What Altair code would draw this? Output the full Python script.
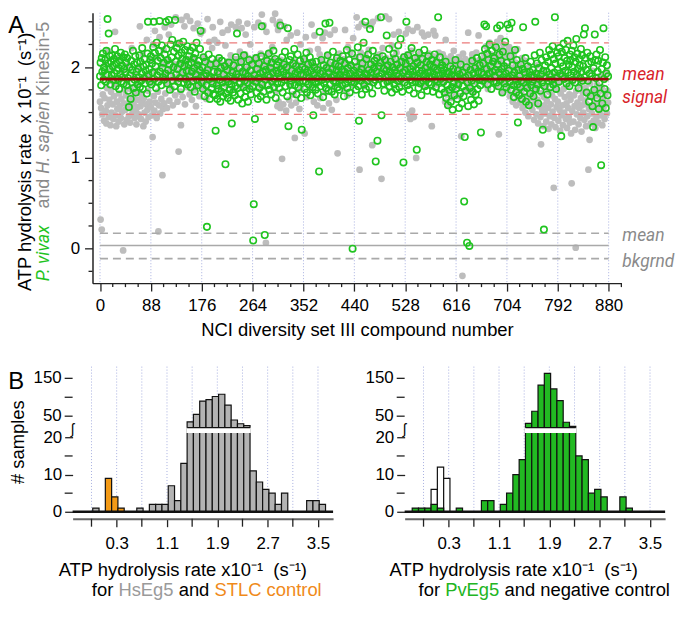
import altair as alt
import pandas as pd

FONT = "Liberation Sans"
ITFONT = "Roboto"

# ---------------- Panel A : ATP hydrolysis rate per compound (x10^-1 s^-1) ----------------
# 40 rows x 22 compounds; row r holds compounds 22*r ... 22*r+21
green_rows = [
    [1.90, 2.05, 1.80, 2.10, 1.95, 2.15, 1.86, 2.00, 1.97, 2.08, 1.84, 2.18, 1.92, 2.53, 2.04, 2.37, 1.98, 2.12, 1.81, 2.06, 1.91, 2.13],
    [2.01, 1.86, 2.09, 1.93, 2.20, 1.79, 2.04, 1.96, 2.12, 1.87, 1.99, 1.76, 2.07, 1.92, 2.16, 1.84, 2.02, 1.89, 2.11, 1.82, 1.98, 2.14],
    [1.94, 2.05, 1.80, 2.10, 1.88, 1.74, 1.56, 2.00, 1.91, 1.65, 2.07, 1.83, 1.97, 2.18, 1.77, 2.03, 1.86, 2.12, 1.72, 1.95, 2.05, 1.81],
    [1.98, 1.89, 2.13, 1.78, 2.06, 1.85, 1.93, 2.21, 1.76, 2.01, 1.88, 2.09, 1.82, 1.96, 2.03, 1.71, 2.15, 2.50, 1.92, 1.98, 1.84, 2.08],
    [2.12, 1.81, 2.04, 1.94, 2.22, 2.50, 1.87, 2.16, 2.01, 1.77, 2.27, 1.91, 2.07, 1.84, 2.18, 2.51, 1.95, 2.10, 1.80, 2.24, 1.99, 1.89],
    [2.05, 1.86, 2.14, 1.93, 2.50, 2.20, 1.82, 2.08, 1.97, 2.52, 2.03, 1.75, 2.25, 1.90, 2.11, 2.30, 1.85, 2.00, 2.17, 1.79, 2.52, 2.06],
    [1.92, 2.21, 1.98, 1.84, 2.13, 2.26, 1.88, 2.04, 1.76, 2.16, 2.09, 1.94, 2.28, 1.83, 2.01, 2.19, 1.87, 2.08, 1.96, 2.23, 1.81, 2.03],
    [2.12, 1.90, 2.18, 1.78, 2.05, 1.95, 2.22, 1.85, 2.10, 1.99, 1.73, 2.15, 1.92, 2.27, 1.86, 2.02, 1.80, 2.07, 1.97, 2.20, 2.40, 1.89],
    [1.83, 2.00, 1.76, 2.11, 1.90, 1.68, 2.06, 1.93, 1.80, 0.24, 1.97, 1.72, 2.14, 1.87, 1.65, 2.03, 1.89, 1.77, 2.09, 1.82, 1.70, 1.95],
    [1.88, 1.69, 1.30, 2.04, 1.80, 1.65, 1.95, 1.76, 2.10, 1.86, 1.62, 1.99, 1.73, 2.07, 1.83, 1.68, 1.92, 1.78, 2.01, 0.93, 1.71, 1.87],
    [1.97, 1.66, 1.84, 2.05, 1.75, 1.90, 1.63, 1.81, 1.38, 1.94, 1.72, 2.02, 1.86, 1.69, 1.79, 2.11, 1.92, 2.37, 1.77, 1.64, 1.89, 1.99],
    [1.82, 1.71, 2.06, 1.88, 1.60, 1.95, 1.78, 2.13, 1.85, 1.67, 1.93, 1.74, 2.00, 1.83, 1.62, 1.90, 2.08, 1.76, 1.96, 1.70, 1.87, 2.03],
    [1.79, 0.09, 0.49, 1.91, 1.43, 1.84, 2.10, 1.72, 1.98, 1.65, 1.88, 2.04, 1.77, 1.93, 1.68, 2.12, 2.45, 1.81, 1.95, 1.73, 2.01, 0.15],
    [1.86, 1.97, 1.64, 2.07, 1.80, 1.91, 2.15, 1.75, 1.89, 1.99, 1.70, 2.05, 1.84, 1.94, 2.18, 1.78, 1.87, 2.09, 1.66, 1.96, 2.02, 1.82],
    [1.93, 2.06, 1.77, 1.88, 2.46, 1.98, 1.83, 2.11, 1.72, 1.95, 2.03, 1.86, 2.17, 1.79, 1.91, 2.00, 1.68, 2.43, 1.35, 1.90, 2.08, 1.81],
    [2.12, 1.85, 1.96, 1.74, 2.04, 1.89, 2.20, 1.80, 1.93, 2.01, 1.70, 1.87, 2.14, 1.78, 1.97, 1.83, 2.07, 1.92, 1.66, 1.31, 2.00, 1.85],
    [1.91, 2.09, 1.76, 1.98, 1.84, 2.16, 1.72, 1.94, 2.03, 1.81, 1.89, 2.11, 1.69, 1.96, 1.86, 2.05, 1.78, 1.47, 1.92, 2.00, 1.83, 1.75],
    [2.06, 1.88, 1.97, 1.71, 1.84, 0.85, 2.39, 1.93, 1.79, 2.08, 1.86, 1.95, 1.67, 2.02, 1.82, 1.90, 2.48, 1.77, 1.99, 1.87, 2.13, 1.74],
    [1.94, 2.49, 1.81, 2.05, 1.89, 1.73, 1.98, 2.17, 1.85, 1.91, 1.70, 2.03, 1.83, 1.96, 2.10, 1.78, 1.88, 2.01, 1.75, 1.92, 2.07, 1.86],
    [1.97, 1.80, 2.12, 1.89, 1.68, 1.95, 2.04, 1.82, 1.91, 2.19, 1.77, 1.99, 1.86, 2.08, 1.72, 1.93, 2.02, 1.84, 2.15, 0.00, 1.88, 1.96],
    [1.83, 2.06, 1.91, 1.75, 2.00, 1.87, 2.22, 1.79, 1.41, 1.94, 2.11, 1.85, 1.98, 1.70, 2.04, 1.89, 2.27, 1.81, 1.93, 2.50, 1.76, 2.09],
    [1.92, 1.85, 2.14, 1.97, 1.78, 2.42, 1.88, 2.03, 1.94, 1.71, 2.18, 1.83, 1.99, 2.07, 1.86, 0.96, 1.95, 2.10, 1.19, 1.80, 2.01, 1.90],
    [1.87, 2.05, 2.55, 1.47, 1.93, 2.12, 1.82, 1.98, 1.74, 2.08, 1.89, 1.96, 2.35, 1.84, 2.02, 1.91, 2.20, 1.79, 1.95, 2.06, 1.86, 1.72],
    [2.00, 1.88, 2.15, 1.81, 1.97, 2.09, 1.76, 1.93, 2.03, 1.85, 2.24, 1.90, 1.78, 1.99, 2.31, 1.87, 2.06, 1.73, 1.94, 0.95, 2.11, 1.83],
    [1.96, 2.04, 2.50, 1.89, 1.80, 2.13, 1.92, 1.75, 2.07, 1.98, 1.86, 2.21, 1.83, 1.95, 2.01, 1.71, 1.90, 2.10, 1.84, 1.97, 1.09, 2.05],
    [1.88, 1.77, 2.16, 1.93, 1.82, 2.02, 1.69, 1.96, 2.09, 1.85, 1.91, 2.19, 1.79, 1.99, 1.87, 2.06, 1.74, 1.94, 2.12, 1.83, 1.90, 2.03],
    [1.95, 1.81, 2.08, 1.89, 1.73, 2.00, 1.92, 2.14, 1.86, 1.78, 2.05, 1.97, 1.84, 2.55, 1.91, 1.70, 2.11, 1.87, 1.99, 1.76, 2.02, 1.93],
    [1.84, 1.97, 1.72, 1.89, 2.06, 1.66, 1.93, 1.80, 1.58, 1.95, 1.75, 1.87, 2.01, 1.62, 1.91, 1.78, 1.53, 1.98, 1.83, 1.69, 1.90, 2.08],
    [1.76, 1.88, 1.65, 1.96, 1.81, 1.55, 1.92, 1.71, 2.03, 1.86, 1.60, 1.94, 1.79, 1.68, 0.52, 1.23, 1.89, 1.74, 2.00, 0.065, 1.83, 1.57],
    [1.91, 0.03, 1.77, 1.97, 1.64, 1.85, 2.07, 1.73, 1.93, 1.59, 1.82, 1.99, 1.70, 1.88, 2.10, 1.76, 1.95, 1.63, 1.86, 2.02, 1.80, 1.28],
    [1.94, 2.12, 1.85, 2.04, 1.92, 2.47, 2.20, 1.88, 2.45, 1.98, 2.15, 1.81, 2.08, 1.93, 2.25, 1.87, 2.01, 1.76, 2.18, 1.95, 2.06, 1.84],
    [2.10, 1.90, 1.97, 2.22, 1.83, 2.43, 2.03, 1.79, 1.94, 2.14, 2.46, 1.86, 2.07, 1.98, 1.72, 2.17, 1.89, 2.01, 1.82, 2.28, 1.93, 1.78],
    [2.05, 2.47, 1.88, 1.96, 2.43, 1.84, 2.12, 1.75, 2.49, 1.91, 2.02, 1.80, 1.67, 1.94, 2.19, 1.86, 1.72, 2.08, 1.81, 1.39, 1.97, 1.69],
    [1.90, 1.78, 2.03, 1.85, 1.65, 1.98, 2.44, 1.83, 1.73, 1.94, 2.10, 1.62, 1.88, 1.77, 2.01, 1.86, 1.58, 1.95, 1.71, 2.06, 1.80, 1.91],
    [1.84, 1.97, 1.68, 1.89, 2.13, 2.50, 1.76, 1.93, 2.04, 1.81, 1.60, 1.99, 1.87, 2.16, 1.74, 1.92, 2.08, 1.83, 1.31, 1.96, 0.21, 1.79],
    [2.02, 1.88, 2.11, 1.95, 1.70, 2.06, 1.85, 2.19, 1.92, 1.78, 2.14, 1.99, 1.86, 2.23, 1.81, 2.09, 1.94, 2.55, 2.04, 1.76, 1.89, 2.16],
    [1.97, 2.12, 1.84, 2.21, 1.93, 2.05, 1.24, 2.17, 1.90, 2.01, 2.26, 1.87, 2.10, 1.96, 2.19, 1.82, 2.07, 2.29, 1.94, 2.03, 1.79, 2.14],
    [2.08, 1.91, 2.18, 2.00, 1.86, 2.24, 1.95, 2.11, 1.83, 2.06, 2.31, 1.92, 2.15, 1.98, 1.77, 2.09, 2.02, 1.88, 2.20, 1.95, 2.13, 1.85],
    [2.01, 2.36, 1.89, 2.43, 2.10, 1.97, 1.72, 2.16, 1.85, 2.04, 1.62, 1.93, 2.12, 1.68, 2.06, 1.90, 1.57, 1.34, 1.99, 1.75, 2.36, 2.08],
    [1.88, 2.14, 1.66, 1.95, 2.07, 1.54, 1.83, 2.19, 1.71, 0.92, 1.98, 1.60, 2.05, 2.43, 1.87, 1.76, 2.11, 1.55, 1.93, 2.02, 1.69, 1.90],
]
gray_rows = [
    [1.62, 0.32, 1.55, 0.21, 1.48, 1.70, 1.92, 1.41, 1.66, 2.05, 1.52, 1.38, 1.77, 1.58, 2.18, 1.45, 1.64, 1.85, 1.36, 1.73, 1.50, 1.97],
    [1.59, 1.43, 1.68, 1.81, 2.39, 1.47, 1.35, 1.62, 1.54, 2.10, 1.40, 1.71, 1.57, 1.88, 1.44, 1.65, 1.51, 1.96, -0.02, 1.60, 1.37, 1.75],
    [1.53, 1.69, 1.42, 1.84, 1.58, 2.02, 1.46, 1.63, 1.39, 1.76, 1.55, 2.21, 1.49, 1.67, 1.60, 1.91, 1.44, 1.72, 1.52, 1.37, 1.80, 1.56],
    [1.64, 1.48, 1.99, 2.45, 1.57, 1.43, 1.70, 1.61, 2.14, 1.35, 1.66, 1.50, 1.86, 1.40, 1.59, 2.30, 1.53, 1.74, 1.45, 1.93, 1.62, 2.08],
    [1.56, 1.83, 1.47, 1.23, 2.25, 1.68, 1.52, 2.40, 1.61, 1.96, 1.44, 2.11, 1.73, 0.19, 1.58, 2.33, 1.49, 1.87, 1.65, 2.02, 0.81, 1.54],
    [2.19, 1.60, 2.44, 1.71, 1.92, 2.05, 1.55, 2.07, 1.82, 2.36, 1.63, 1.95, 1.97, 2.47, 1.76, 1.88, 1.58, 1.89, 2.01, 2.03, 1.69, 2.55],
    [1.85, 2.26, 1.62, 2.02, 1.07, 1.94, 1.94, 1.73, 1.36, 2.52, 2.05, 1.67, 1.91, 1.88, 2.45, 1.59, 2.07, 1.99, 2.56, 1.78, 1.84, 1.92],
    [2.09, 1.70, 2.51, 1.86, 1.98, 1.64, 2.09, 1.95, 2.43, 1.75, 2.07, 1.89, 1.57, 2.04, 1.90, 2.48, 1.81, 1.95, 1.68, 2.01, 2.37, 1.84],
    [1.93, 1.96, 2.40, 1.77, 2.11, 1.83, 1.88, 2.08, 1.65, 1.96, 2.53, 2.04, 1.93, 2.28, 1.72, 1.99, 2.00, 1.83, 2.21, 2.44, 1.90, 2.03],
    [2.30, 1.86, 2.06, 1.92, 1.97, 2.27, 1.79, 2.08, 1.95, 1.92, 2.50, 2.03, 1.74, 1.90, 2.38, 1.89, 2.02, 1.85, 1.95, 2.24, 1.81, 1.98],
    [2.06, 2.41, 1.91, 1.99, 1.84, 1.84, 2.13, 2.47, 1.98, 1.86, 1.76, 2.07, 2.09, 1.93, 1.89, 2.44, 2.01, 1.87, 1.92, 2.09, 2.50, 1.95],
    [2.17, 1.92, 1.89, 2.43, 2.05, 1.80, 1.97, 2.10, 1.96, 2.14, 2.36, 1.85, 1.91, 2.48, 1.99, 2.10, 1.90, 1.78, 2.25, 2.04, 1.82, 1.92],
    [1.93, 2.07, 1.88, 2.44, 2.08, 1.97, 1.88, 2.11, 1.83, 1.99, 2.49, 2.02, 1.94, 2.05, 2.15, 1.79, 2.58, 1.94, 2.06, 2.46, 1.90, 2.00],
    [2.12, 0.065, 2.39, 1.95, 1.97, 2.05, 1.86, 2.03, 2.16, 1.99, 1.92, 1.81, 2.22, 2.52, 1.92, 2.08, 1.96, 2.59, 1.73, 1.98, 2.47, 1.57],
    [2.41, 1.62, 1.95, 2.50, 1.55, 2.08, 1.97, 0.99, 2.03, 1.59, 1.91, 2.45, 1.88, 2.04, 1.52, 2.30, 1.99, 1.96, 1.93, 1.64, 2.02, 1.80],
    [2.35, 1.58, 2.01, 1.93, 1.98, 1.70, 2.04, 1.22, 2.06, 1.61, 1.89, 2.38, 1.84, 2.02, 1.90, 1.54, 1.97, 2.25, 1.75, 2.03, 1.96, 1.89],
    [2.08, 1.94, 1.27, 1.91, 2.33, 2.05, 1.67, 1.97, 2.00, 1.89, 1.86, 2.18, 1.91, 1.79, 2.47, 2.05, 1.95, 1.92, 1.62, 2.35, 2.00, 1.88],
    [1.99, 2.01, 1.58, 2.20, 1.94, 1.92, 2.14, 1.66, 1.96, 2.07, 1.85, 2.32, 1.55, 1.97, 1.97, 2.38, 1.72, 2.01, 1.88, 1.90, 2.13, 2.04],
    [1.60, 1.93, 2.36, 1.94, 2.02, 1.53, 1.90, 2.02, 1.78, 1.99, 2.41, 1.87, 2.08, 1.64, 1.97, 1.05, 1.98, 2.05, 2.15, 1.83, 1.90, 2.06],
    [1.91, 2.08, 1.92, 1.76, 1.95, 2.09, 2.41, 1.95, 2.04, 1.87, 1.69, 2.22, 2.03, 1.95, 1.88, 2.16, 2.00, 1.81, 1.97, 2.00, 2.32, 1.93],
    [2.00, 1.98, 1.97, 2.11, 2.55, 1.99, 1.86, 2.44, 2.05, 0.87, 1.93, 2.16, 1.90, 2.48, 1.94, 2.01, 2.12, 1.79, 2.06, 2.13, 2.46, 2.07],
    [2.01, 1.94, 1.92, 2.19, 2.08, 1.95, 1.83, 2.46, 1.96, 1.14, 2.50, 2.02, 1.89, 1.96, 2.03, 1.97, 2.12, 1.88, 2.04, 2.54, 2.05, 1.99],
    [2.14, 2.05, 1.99, 0.77, 1.97, 2.21, 1.89, 2.06, 1.91, 2.02, 2.56, 2.10, 1.90, 1.85, 1.97, 2.05, 2.53, 1.98, 2.03, 1.95, 1.95, 2.24],
    [1.98, 2.11, 2.36, 2.00, 1.99, 1.87, 2.01, 2.16, 1.93, 1.93, 2.05, 2.39, 2.07, 1.82, 1.96, 2.09, 1.93, 1.98, 2.08, 2.12, 1.89, 2.04],
    [2.01, 2.37, 1.96, 2.00, 2.14, 2.42, 1.88, 1.48, 2.09, 1.43, 1.93, 2.18, 1.52, 2.40, 2.02, 1.45, 1.96, 1.91, 2.05, 1.00, 2.11, 2.44],
    [2.07, 1.84, 1.92, 2.06, 2.15, 1.95, 1.94, 2.38, 2.00, 2.13, 1.79, 2.34, 1.90, 1.90, 2.01, 2.08, 1.97, 1.86, 2.36, 2.15, 1.97, 1.99],
    [1.93, 2.04, 1.35, 2.01, 2.12, 2.40, 1.93, 1.99, 2.35, 1.81, 1.97, 2.09, 2.04, 1.98, 2.16, 1.93, 1.88, 2.02, 2.05, 1.98, 1.94, 2.14],
    [2.06, 1.83, 2.10, 1.62, 2.30, 1.95, 1.70, 2.08, 1.88, 2.05, 1.58, 2.04, 1.76, 2.12, 1.92, 1.66, 2.03, 1.99, 2.18, 1.73, 2.07, 1.86],
    [2.01, 2.09, 1.80, 2.02, 1.93, 2.11, 1.68, 1.94, 1.97, 1.24, 2.06, -0.30, 2.15, 1.85, 1.99, 1.74, 2.09, 1.91, 2.00, 1.82, 2.02, 2.38],
    [1.96, 2.03, 1.78, 2.07, 2.04, 1.89, 2.14, 2.10, 1.72, 2.01, 1.99, 2.06, 1.84, 2.16, 2.03, 1.92, 1.95, 2.35, 1.87, 2.08, 2.01, 1.95],
    [2.08, 1.86, 1.99, 2.05, 1.97, 2.14, 1.81, 2.12, 2.23, 1.93, 2.07, 1.76, 2.00, 2.01, 2.27, 1.90, 2.14, 1.83, 1.96, 2.09, 1.95, 2.10],
    [2.04, 1.88, 2.23, 2.11, 1.79, 2.28, 1.98, 2.15, 1.26, 2.06, 1.85, 2.32, 1.94, 2.19, 1.73, 2.09, 2.25, 1.90, 2.02, 1.82, 2.17, 1.96],
    [1.87, 2.14, 1.75, 2.01, 2.22, 1.68, 1.93, 2.08, 1.80, 2.17, 1.62, 1.99, 2.12, 1.71, 1.90, 2.05, 1.58, 1.84, 2.20, 1.66, 1.97, 1.77],
    [2.03, 1.61, 1.89, 1.74, 2.10, 1.55, 1.95, 1.68, 1.82, 2.07, 1.50, 1.78, 1.98, 1.63, 1.86, 1.46, 2.00, 1.72, 1.57, 1.91, 1.66, 1.80],
    [1.53, 1.85, 1.69, 1.42, 1.94, 1.60, 1.76, 1.48, 2.02, 1.64, 1.38, 1.81, 1.57, 1.89, 1.45, 1.15, 1.71, 1.52, 1.97, 1.35, 1.67, 1.58],
    [1.49, 1.78, 1.40, 1.63, 1.92, 1.55, 1.32, 1.73, 1.46, 1.86, 1.59, 1.37, 1.69, 1.51, 1.80, 0.67, 1.44, 1.65, 1.34, 1.90, 1.56, 1.75],
    [1.62, 1.41, 1.83, 1.53, 1.30, 1.71, 1.47, 1.95, 1.58, 1.36, 1.76, 1.50, 1.67, 1.88, 1.43, 1.60, 1.33, 1.79, 1.55, 1.45, 1.70, 1.39],
    [1.64, 1.27, 0.72, 1.52, 1.84, 1.40, 1.69, 1.57, 1.31, 0.01, 1.74, 1.48, 1.61, 1.93, 1.37, 1.55, 1.80, 1.44, 1.66, 1.29, 1.58, 1.72],
    [1.50, 1.86, 1.42, 1.63, 1.77, 1.35, 1.59, 1.46, 1.70, 0.87, 1.54, 1.20, 1.82, 1.38, 1.67, 1.49, 1.96, 1.56, 1.41, 1.75, 1.60, 1.33],
    [1.68, 1.45, 1.81, 1.57, 1.39, 1.73, 1.52, 1.90, 1.62, 1.47, 1.78, 1.36, 1.65, 1.55, 1.86, 1.43, 1.70, 1.59, 1.95, 1.49, 1.74, 1.61],
]
ROW_LEN = 22

signal_mean = 1.868
signal_band = [1.479, 2.268]
bkgrnd_mean = 0.035
bkgrnd_band = [-0.11, 0.17]
line_span = [0, 880]

major_x_a = list(range(0, 881, 88))                                  # labelled ticks / grid
minor_x_a = [v for v in range(0, 903, 22) if v % 88 != 0]           # small ticks
major_y_a = [0, 1, 2]
minor_y_a = [-0.25, 0.25, 0.5, 0.75, 1.25, 1.5, 1.75, 2.25, 2.5]

# ---------------- Panel B : histograms (# samples per 0.1 bin) ----------------
hs_left = [-0.08, 0.62, 0.82, 0.92, 1.02, 1.12, 1.22, 1.32, 1.42, 1.52, 1.62, 1.72, 1.82, 1.92,
           2.02, 2.12, 2.22, 2.32, 2.42, 2.52, 2.62, 2.72, 2.82, 2.92, 3.32, 3.42, 3.52]
hs_count = [1, 1, 2, 2, 2, 7, 3, 13, 35, 55, 90, 94, 102, 108, 79, 40, 30, 25, 11, 8, 6, 5, 2, 5, 3, 3, 2]
stlc_left = [0.12, 0.22, 0.32]
stlc_count = [9, 4, 1]
pv_left = [-0.28, -0.18, -0.08, 0.02, 0.12, 0.42, 0.82, 0.92, 1.12, 1.22, 1.32, 1.42, 1.52, 1.62,
           1.72, 1.82, 1.92, 2.02, 2.12, 2.22, 2.32, 2.42, 2.52, 2.62, 2.72, 3.02, 3.12]
pv_count = [1, 1, 1, 2, 1, 1, 3, 3, 2, 5, 10, 14, 31, 63, 132, 163, 122, 91, 34, 23, 15, 14, 5, 6, 4, 4, 1]
neg_left = [0.02, 0.12, 0.22]
neg_count = [6, 12, 9]
BIN_W = 0.1
grid_b = [-0.1, 0.3, 0.7, 1.1, 1.5, 1.9, 2.3, 2.7, 3.1, 3.5]
label_b = [0.3, 1.1, 1.9, 2.7, 3.5]
unlabeled_b = [-0.1, 0.7, 1.5, 2.3, 3.1]
x_extent_b = [-0.4, 3.74]
y_low_labels = [0, 10, 20]
y_low_minor = [5, 15]
y_up_labels = [50, 150]
y_up_minor = [100]

# broken y axis: linear up to 21, compressed above
BREAK_LO = 21.0
GAP_LO, GAP_HI = 21.2, 22.6


def brk(c):
    return c if c <= BREAK_LO else 20.6 + 0.1017 * c


# ---------------- text width helper (Arial / Liberation Sans metrics) ----------------
W = {' ': .278, '\u00a0': .278, '#': .556, '(': .333, ')': .333, '-': .333, '.': .278,
     '\u207b': .33, '\u00b9': .33}
for ch in '0123456789':
    W[ch] = .556
W.update(dict(A=.667, B=.667, C=.722, D=.722, E=.667, F=.611, G=.778, H=.722, I=.278, J=.5, K=.667,
              L=.556, M=.833, N=.722, O=.778, P=.667, Q=.778, R=.722, S=.667, T=.611, U=.722, V=.667,
              W=.944, X=.667, Y=.667, Z=.611))
W.update(dict(a=.556, b=.556, c=.5, d=.556, e=.556, f=.278, g=.556, h=.556, i=.222, j=.222, k=.5, l=.222,
              m=.833, n=.556, o=.556, p=.556, q=.556, r=.333, s=.5, t=.278, u=.556, v=.5, w=.722, x=.5,
              y=.5, z=.5))


def tw(s, size):
    return sum(W.get(ch, .556) for ch in s) * size


def label(text, x, y, size=18.5, color="black", style="normal", angle=0, align="left", baseline="middle"):
    font = ITFONT if style == "italic" else FONT
    return alt.Chart(pd.DataFrame({"t": [text]})).mark_text(
        align=align, baseline=baseline, angle=angle, fontSize=size, font=font,
        color=color, fontStyle=style).encode(text="t:N", x=alt.value(x), y=alt.value(y))


GREEN = "#1fc41f"
GRAYPT = "#bdbdbd"
GRID = "#a7afe0"
TXT_GRAY = "#8a8a8a"
RED_TXT = "#d8232a"
TICK = "#222"

# ======================= Panel A =======================
WA, HA = 532, 272
xA = alt.Scale(domain=[-13, 902], nice=False, zero=False)
yA = alt.Scale(domain=[-0.38, 2.6], nice=False, zero=False)


def rows_df(rows):
    recs = []
    for r, row in enumerate(rows):
        for c, v in enumerate(row):
            recs.append({"x": r * ROW_LEN + c, "y": v})
    return pd.DataFrame(recs)


gridA = alt.Chart(pd.DataFrame({"x": major_x_a})).mark_rule(
    color=GRID, strokeDash=[1, 2], strokeWidth=1).encode(
    x=alt.X("x:Q", scale=xA, axis=alt.Axis(
        values=major_x_a, format="d", tickSize=8, labelOverlap=False,
        title="NCI diversity set III compound number", titleFontSize=18.5, titleFont=FONT,
        titleFontWeight="normal", titleColor="black", titlePadding=7, labelPadding=7,
        labelFontSize=17)))

minor_xA = alt.Chart(pd.DataFrame({"x": minor_x_a})).mark_rule(color=TICK, strokeWidth=1.3).encode(
    x=alt.X("x:Q", scale=xA), y=alt.value(HA), y2=alt.value(HA + 4))

grayA = alt.Chart(rows_df(gray_rows)).mark_circle(size=46, color=GRAYPT, opacity=1).encode(
    x=alt.X("x:Q", scale=xA),
    y=alt.Y("y:Q", scale=yA, axis=alt.Axis(
        values=major_y_a, format="d", tickSize=8, labelOverlap=False,
        title=None, labelPadding=5, labelFontSize=17)))

minor_yA = alt.Chart(pd.DataFrame({"y": minor_y_a})).mark_rule(color=TICK, strokeWidth=1.3).encode(
    y=alt.Y("y:Q", scale=yA), x=alt.value(0), x2=alt.value(-4))


def hline(yv, color, width, dash=None):
    df = pd.DataFrame({"x": [line_span[0]], "x2": [line_span[1]], "y": [yv]})
    kw = dict(color=color, strokeWidth=width)
    if dash:
        kw["strokeDash"] = dash
    return alt.Chart(df).mark_rule(**kw).encode(
        x=alt.X("x:Q", scale=xA), x2="x2:Q", y=alt.Y("y:Q", scale=yA))


bkg_lines = [hline(bkgrnd_mean, "#a9a9a9", 1.6)] + [hline(v, "#a9a9a9", 1.6, [8, 5]) for v in bkgrnd_band]

greenA = alt.Chart(rows_df(green_rows)).mark_point(
    shape="circle", filled=False, size=42, color=GREEN, strokeWidth=1.6, opacity=1).encode(
    x=alt.X("x:Q", scale=xA), y=alt.Y("y:Q", scale=yA))

sig_lines = [hline(v, "#ec7b7b", 1.3, [8, 5]) for v in signal_band] + [hline(signal_mean, "#9b0a0a", 2.6)]

side_txt = pd.DataFrame({"t": ["mean", "signal", "mean", "bkgrnd"],
                         "y": [1.917, 1.656, 0.135, -0.145],
                         "c": [RED_TXT, RED_TXT, TXT_GRAY, TXT_GRAY]})
sideA = alt.Chart(side_txt).mark_text(align="left", baseline="middle", fontSize=17.5, font=ITFONT,
                                      fontStyle="italic").encode(
    text="t:N", x=alt.value(533), y=alt.Y("y:Q", scale=yA),
    color=alt.Color("c:N", scale=None))

# y title (two rotated lines, mixed colours)
FS = 18.5
FS2 = 18
line1 = "ATP hydrolysis rate\u00a0 x 10\u207b\u00b9\u00a0\u00a0(s\u207b\u00b9)"
ytitle = [label(line1, -67.7, HA + 8, FS, "black", angle=270)]
y_bottom = HA - 2          # where "P. vivax" starts
y_top = 9                  # where "Kinesin-5" ends
ytitle.append(label("P. vivax", -48.7, y_bottom, FS2, GREEN, "italic", angle=270))
ytitle.append(label("and", -48.7, y_bottom - tw("P. vivax\u00a0\u00a0", FS2), FS2, TXT_GRAY, angle=270))
ytitle.append(label("Kinesin-5", -48.7, y_top, FS2, TXT_GRAY, angle=270, align="right"))
ytitle.append(label("H. sapien", -48.7, y_top + tw("Kinesin-5 ", FS2), FS2, TXT_GRAY, "italic",
                    angle=270, align="right"))

letterA = label("A", -84.7, 1, 24, "black", baseline="top")

panelA = alt.layer(gridA, minor_xA, grayA, minor_yA, *bkg_lines, greenA, *sig_lines, sideA,
                   *ytitle, letterA).properties(width=WA, height=HA)

# ======================= Panel B =======================
SHIFT = 20          # histogram axes start 20 px left of panel A's plot edge
WB, HB = 242, 146
xB = alt.Scale(domain=x_extent_b, range=[-SHIFT, WB], nice=False, zero=False)
yB = alt.Scale(domain=[0, 39], nice=False, zero=False)


def bars_df(lefts, counts):
    return pd.DataFrame({"x": lefts, "x2": [l + BIN_W for l in lefts],
                         "y": [brk(c) for c in counts], "y0": [0] * len(lefts)})


def bar_layer(lefts, counts, fill, y_axis=None):
    yenc = alt.Y("y:Q", scale=yB, axis=y_axis) if y_axis is not None else alt.Y("y:Q", scale=yB)
    return alt.Chart(bars_df(lefts, counts)).mark_rect(fill=fill, stroke="#111", strokeWidth=1.2).encode(
        x=alt.X("x:Q", scale=xB), x2="x2:Q", y=yenc, y2="y0:Q")


def py(v):
    return HB - v * HB / 39.0


def hist(main_l, main_c, main_fill, ctrl_l, ctrl_c, ctrl_fill, ctrl_behind, texts):
    grid = alt.Chart(pd.DataFrame({"x": grid_b})).mark_rule(
        color=GRID, strokeDash=[1, 2], strokeWidth=1).encode(
        x=alt.X("x:Q", scale=xB, axis=alt.Axis(
            values=label_b, format=".1f", labelOverlap=False, offset=7, tickSize=8,
            labelPadding=9, title=None, domainColor="#666", domainWidth=2, labelFontSize=17)))
    xminor = alt.Chart(pd.DataFrame({"x": unlabeled_b})).mark_rule(color=TICK, strokeWidth=1.3).encode(
        x=alt.X("x:Q", scale=xB), y=alt.value(HB + 7), y2=alt.value(HB + 15))
    yax = alt.Axis(values=y_low_labels, format="d", labelOverlap=False, domain=False, tickSize=8,
                   offset=SHIFT, labelPadding=3, title=None, labelFontSize=17)
    main = bar_layer(main_l, main_c, main_fill, yax)
    ctrl = bar_layer(ctrl_l, ctrl_c, ctrl_fill)
    bars = [ctrl, main] if ctrl_behind else [main, ctrl]
    extra_ticks = [brk(v) for v in y_low_minor + y_up_labels + y_up_minor]
    yminor = alt.Chart(pd.DataFrame({"y": extra_ticks})).mark_rule(color=TICK, strokeWidth=1.3).encode(
        y=alt.Y("y:Q", scale=yB), x=alt.value(-SHIFT), x2=alt.value(-SHIFT - 8))
    yup = alt.Chart(pd.DataFrame({"y": [brk(v) for v in y_up_labels], "t": [str(v) for v in y_up_labels]})
                    ).mark_text(align="right", baseline="middle", fontSize=17, font=FONT, color="black").encode(
        y=alt.Y("y:Q", scale=yB), x=alt.value(-SHIFT - 11), text="t:N")
    tall = [l for l, c in zip(main_l, main_c) if c > BREAK_LO]
    gx1, gx2 = min(tall), max(tall) + BIN_W
    gap = alt.Chart(pd.DataFrame({"x": [gx1 - 0.012], "x2": [gx2 + 0.012], "y": [GAP_LO], "y2": [GAP_HI]})
                    ).mark_rect(fill="white").encode(
        x=alt.X("x:Q", scale=xB), x2="x2:Q", y=alt.Y("y:Q", scale=yB), y2="y2:Q")
    edge = alt.Chart(pd.DataFrame({"x": [gx1], "x2": [gx2], "y": [GAP_HI]})).mark_rule(
        color="#111", strokeWidth=1.3).encode(
        x=alt.X("x:Q", scale=xB), x2="x2:Q", y=alt.Y("y:Q", scale=yB))
    base = alt.Chart(pd.DataFrame({"x": [x_extent_b[0]], "x2": [x_extent_b[1]], "y": [0]})).mark_rule(
        color="#111", strokeWidth=2.5).encode(
        x=alt.X("x:Q", scale=xB), x2="x2:Q", y=alt.Y("y:Q", scale=yB))
    brkmark = label("\u0283", -SHIFT, py(22.0), 14, "black", align="center")
    return alt.layer(grid, xminor, *bars, yminor, yup, gap, edge, base, brkmark, *texts).properties(
        width=WB, height=HB)


t1 = "ATP hydrolysis rate x10\u207b\u00b9\u00a0\u00a0(s\u207b\u00b9)"


def title2(segments, x0, y):
    out = []
    x = x0
    for s, col in segments:
        out.append(label(s, x, y, FS, col))
        x += tw(s + " ", FS)
    return out


textsL = [label("B", -84.7, 3, 24, "black", baseline="top"),
          label("# samples", -74.7, 76, FS, "black", angle=270, align="center"),
          label(t1, 90.8, HB + 59, FS, "black", align="center")] + \
    title2([("for", "black"), ("HsEg5", "#9a9a9a"), ("and", "black"), ("STLC control", "#f08a1a")],
           -0.7, HB + 79)
textsR = [label(t1, 89.7, HB + 59, FS, "black", align="center")] + \
    title2([("for", "black"), ("PvEg5", "#22b522"), ("and negative control", "black")], -6, HB + 79)

histL = hist(hs_left, hs_count, "#b3b3b3", stlc_left, stlc_count, "#f39a16", False, textsL)
histR = hist(pv_left, pv_count, "#22b922", neg_left, neg_count, "white", True, textsR)

panelB = alt.hconcat(histL, histR, spacing=12)

chart = alt.concat(panelA, panelB, columns=1, align="none", spacing=26).properties(padding=0).configure_view(
    stroke=None).configure_axis(
    grid=False, labelOverlap=False, labelFont=FONT, labelColor="black", tickColor=TICK,
    domainColor="#222", tickWidth=1.3, domainWidth=1.5)

chart.save("out.html", embed_options={"renderer": "svg", "actions": False})
